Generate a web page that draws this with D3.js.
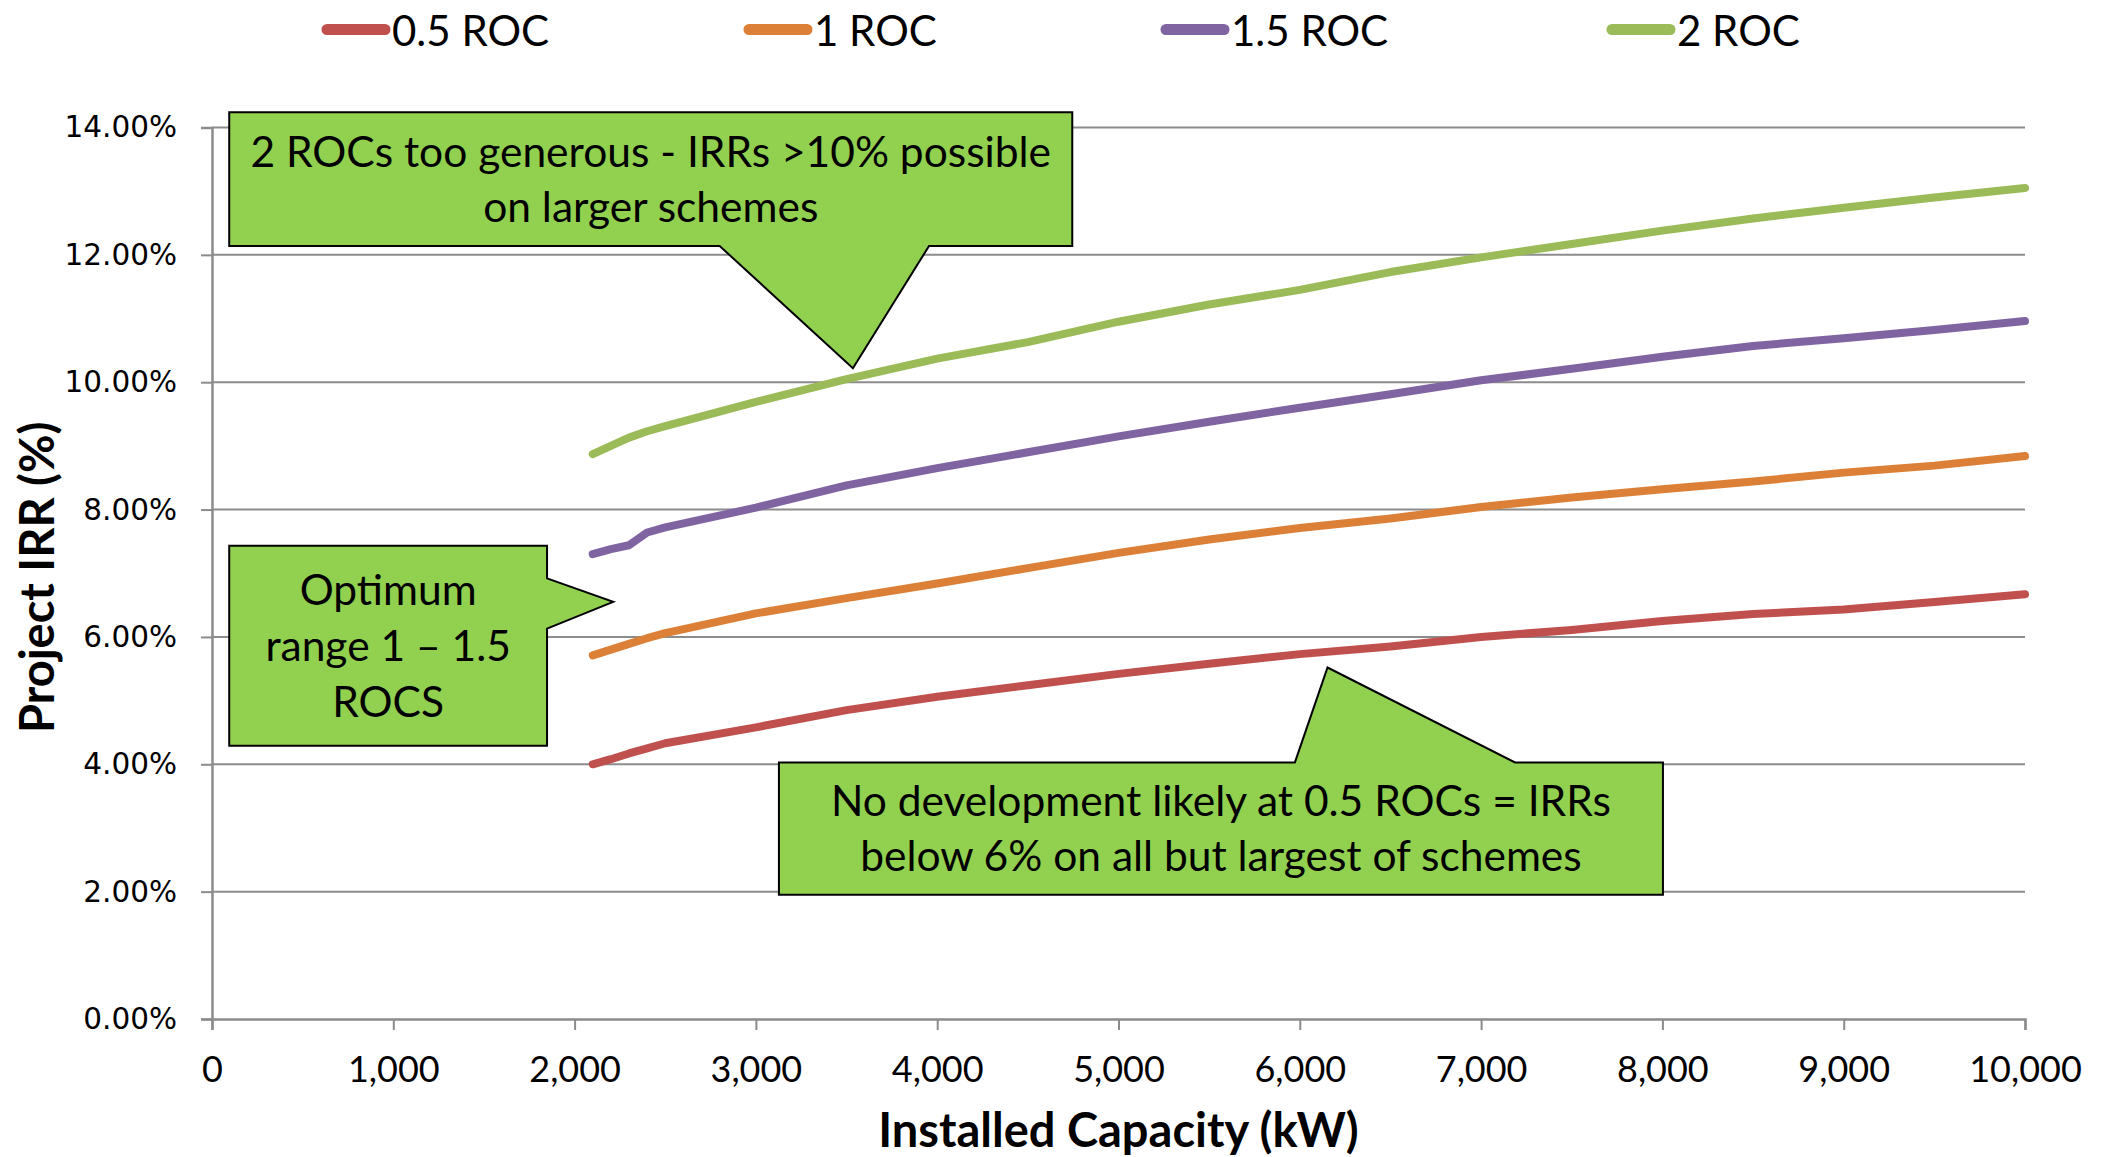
<!DOCTYPE html>
<html>
<head>
<meta charset="utf-8">
<script src="https://cdn.jsdelivr.net/npm/d3@7"></script>
<style>
  html, body { margin: 0; padding: 0; background: #ffffff; }
  svg { display: block; }
</style>
</head>
<body>
<svg id="chart" width="2103" height="1157"></svg>
<script>
// Installed capacity (kW) at which project IRR was modelled
const capacityKW = [2100, 2200, 2300, 2400, 2500, 3000, 3500, 4000, 4500, 5000,
                    5500, 6000, 6500, 7000, 7500, 8000, 8500, 9000, 9500, 10000];

// Project IRR (%) for each ROC banding
const irrHalfRoc = [4.00, 4.08, 4.17, 4.25, 4.33, 4.58, 4.85, 5.06, 5.24, 5.42,
                    5.58, 5.73, 5.85, 6.00, 6.11, 6.25, 6.36, 6.43, 6.55, 6.67];
const irrOneRoc  = [5.71, 5.80, 5.89, 5.98, 6.06, 6.37, 6.61, 6.84, 7.08, 7.32,
                    7.53, 7.71, 7.86, 8.04, 8.19, 8.32, 8.44, 8.58, 8.69, 8.84];
const irrOneHalfRoc = [7.30, 7.38, 7.44, 7.64, 7.72, 8.03, 8.38, 8.65, 8.90, 9.15,
                       9.38, 9.60, 9.81, 10.03, 10.21, 10.40, 10.57, 10.69, 10.82, 10.96];
const irrTwoRoc  = [8.87, 9.00, 9.13, 9.23, 9.31, 9.69, 10.05, 10.37, 10.63, 10.95,
                    11.22, 11.45, 11.73, 11.96, 12.17, 12.38, 12.57, 12.74, 12.90, 13.05];

const seriesNames  = ["0.5 ROC", "1 ROC", "1.5 ROC", "2 ROC"];
const seriesValues = [irrHalfRoc, irrOneRoc, irrOneHalfRoc, irrTwoRoc];
const seriesColors = ["#C0504D", "#DD8037", "#8064A2", "#9BBB59"];

const xTickValues = [0, 1000, 2000, 3000, 4000, 5000, 6000, 7000, 8000, 9000, 10000];
const yTickValues = [0, 2, 4, 6, 8, 10, 12, 14];

// Callout notes, positioned in data units (kW, %)
const calloutTexts = [
  ["2 ROCs too generous - IRRs >10% possible", "on larger schemes"],
  ["Optimum", "range 1 \u2013 1.5", "ROCS"],
  ["No development likely at 0.5 ROCs = IRRs", "below 6% on all but largest of schemes"]
];

// ---- layout ----
const margin = { left: 212, right: 2025, top: 127.5, bottom: 1019 };
const svg = d3.select("#chart");

const x = d3.scaleLinear().domain([0, 10000]).range([margin.left, margin.right]);
const y = d3.scaleLinear().domain([0, 14]).range([margin.bottom, margin.top]);

const gridColor = "#8C8C8C";
const textFont = "Lato, 'Open Sans', sans-serif";

// horizontal gridlines
svg.append("g")
  .selectAll("line")
  .data(yTickValues.filter(d => d > 0))
  .join("line")
  .attr("x1", margin.left).attr("x2", margin.right)
  .attr("y1", d => y(d)).attr("y2", d => y(d))
  .attr("stroke", gridColor).attr("stroke-width", 2);

// y axis
const yAxis = svg.append("g")
  .attr("transform", `translate(${margin.left},0)`)
  .call(d3.axisLeft(y).tickValues(yTickValues).tickSize(11).tickPadding(24)
        .tickFormat(d => d.toFixed(2) + "%"));
yAxis.select(".domain").attr("stroke", gridColor).attr("stroke-width", 2.5);
yAxis.selectAll(".tick line").attr("stroke", gridColor).attr("stroke-width", 2);
yAxis.selectAll(".tick text")
  .attr("font-family", "'DejaVu Sans', Verdana, sans-serif")
  .attr("font-size", 29.5).attr("fill", "#000");

// x axis
const xAxis = svg.append("g")
  .attr("transform", `translate(0,${margin.bottom})`)
  .call(d3.axisBottom(x).tickValues(xTickValues).tickSize(11).tickPadding(26)
        .tickFormat(d3.format(",")));
xAxis.select(".domain").attr("stroke", gridColor).attr("stroke-width", 2.5);
xAxis.selectAll(".tick line").attr("stroke", gridColor).attr("stroke-width", 2);
xAxis.selectAll(".tick text")
  .attr("font-family", textFont)
  .attr("font-size", 36).attr("fill", "#000");

// axis titles
svg.append("text")
  .attr("x", (margin.left + margin.right) / 2).attr("y", 1147)
  .attr("text-anchor", "middle")
  .attr("font-family", textFont).attr("font-weight", 700).attr("font-size", 47)
  .text("Installed Capacity (kW)");

svg.append("text")
  .attr("transform", `translate(54,${(margin.top + margin.bottom) / 2 + 4}) rotate(-90)`)
  .attr("text-anchor", "middle")
  .attr("font-family", textFont).attr("font-weight", 700).attr("font-size", 47)
  .text("Project IRR (%)");

// series lines
const line = d3.line()
  .x((d, i) => x(capacityKW[i]))
  .y(d => y(d));

svg.append("g")
  .selectAll("path")
  .data(seriesValues)
  .join("path")
  .attr("d", d => line(d))
  .attr("fill", "none")
  .attr("stroke", (d, i) => seriesColors[i])
  .attr("stroke-width", 8)
  .attr("stroke-linecap", "round")
  .attr("stroke-linejoin", "round");

// legend
const legendX = [322, 744, 1161, 1607];
const legend = svg.append("g")
  .selectAll("g")
  .data(seriesNames)
  .join("g")
  .attr("transform", (d, i) => `translate(${legendX[i]},29.5)`);
legend.append("line")
  .attr("x1", 5).attr("x2", 63).attr("y1", 0).attr("y2", 0)
  .attr("stroke", (d, i) => seriesColors[i])
  .attr("stroke-width", 11)
  .attr("stroke-linecap", "round");
legend.append("text")
  .attr("x", 70).attr("y", 16)
  .attr("font-family", textFont).attr("font-size", 42).attr("fill", "#000")
  .text(d => d);

// callout shapes: rectangle with a pointer wedge cut into one edge
function calloutPath(box, wedge) {
  const L = x(box.x0), R = x(box.x1), T = y(box.y0), B = y(box.y1);
  const tip = [x(wedge.tip[0]), y(wedge.tip[1])];
  if (wedge.side === "bottom") {
    const a = x(wedge.from), b = x(wedge.to);
    return `M${L},${T}H${R}V${B}H${b}L${tip[0]},${tip[1]}L${a},${B}H${L}Z`;
  }
  if (wedge.side === "top") {
    const a = x(wedge.from), b = x(wedge.to);
    return `M${L},${T}H${a}L${tip[0]},${tip[1]}L${b},${T}H${R}V${B}H${L}Z`;
  }
  // right side
  const a = y(wedge.from), b = y(wedge.to);
  return `M${L},${T}H${R}V${a}L${tip[0]},${tip[1]}L${R},${b}V${B}H${L}Z`;
}

const callouts = [
  { box: { x0: 95, x1: 4745, y0: 14.24, y1: 12.14 },
    wedge: { side: "bottom", from: 2800, to: 3955, tip: [3535, 10.22] },
    lines: calloutTexts[0], size: 42.5, lineGap: 55 },
  { box: { x0: 95, x1: 1848, y0: 7.43, y1: 4.29 },
    wedge: { side: "right", from: 6.92, to: 6.13, tip: [2213, 6.55] },
    lines: calloutTexts[1], size: 42.5, lineGap: 56 },
  { box: { x0: 3127, x1: 8003, y0: 4.03, y1: 1.95 },
    wedge: { side: "top", from: 5973, to: 7187, tip: [6153, 5.52] },
    lines: calloutTexts[2], size: 42.5, lineGap: 55 }
];

const calloutGroups = svg.append("g")
  .selectAll("g")
  .data(callouts)
  .join("g");

calloutGroups.append("path")
  .attr("d", d => calloutPath(d.box, d.wedge))
  .attr("fill", "#92D050")
  .attr("stroke", "#000")
  .attr("stroke-width", 2)
  .attr("stroke-linejoin", "miter");

calloutGroups.each(function (d) {
  const cx = (x(d.box.x0) + x(d.box.x1)) / 2;
  const cy = (y(d.box.y0) + y(d.box.y1)) / 2;
  const n = d.lines.length;
  d3.select(this).selectAll("text")
    .data(d.lines)
    .join("text")
    .attr("x", cx)
    .attr("y", (t, i) => cy + (i - (n - 1) / 2) * d.lineGap + d.size * 0.36)
    .attr("text-anchor", "middle")
    .attr("font-family", textFont)
    .attr("font-size", d.size)
    .attr("fill", "#000")
    .text(t => t);
});
</script>
</body>
</html>
